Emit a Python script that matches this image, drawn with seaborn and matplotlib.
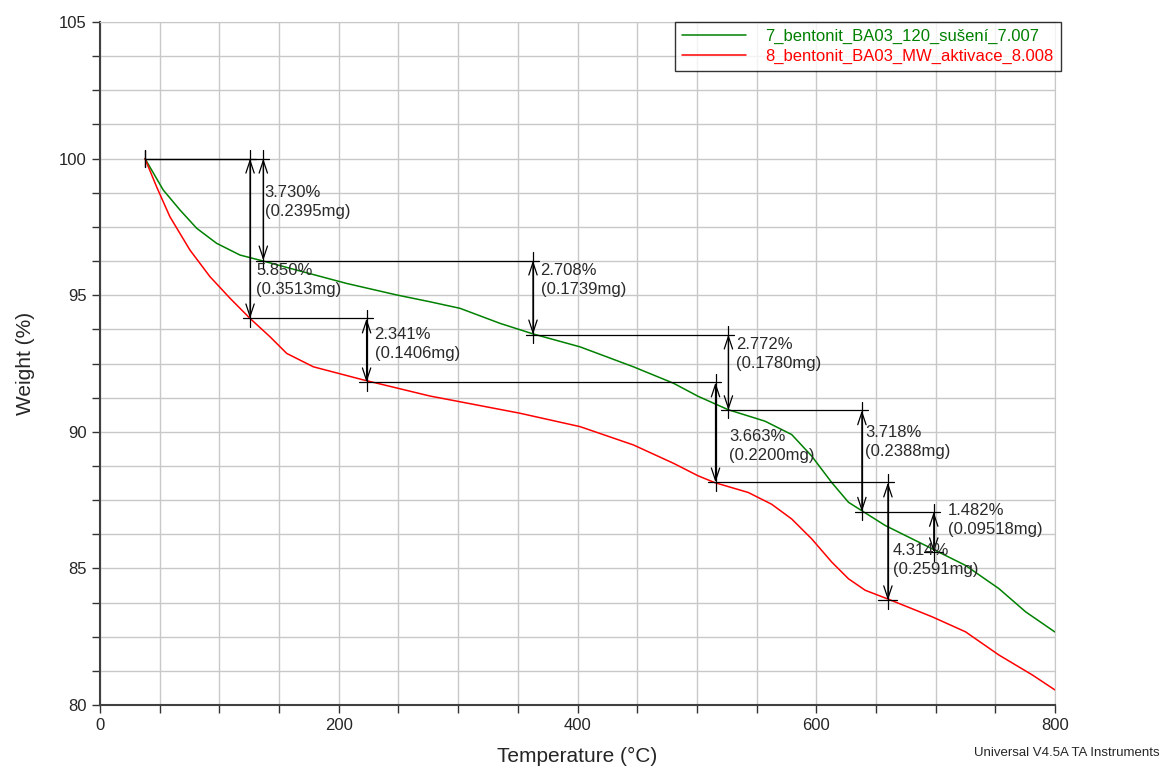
import numpy as np
import pandas as pd
import matplotlib
matplotlib.use("Agg")
import matplotlib.pyplot as plt
from matplotlib.ticker import MultipleLocator
import seaborn as sns

# TGA curves (temperature in degC, weight in %)
green_label = "7_bentonit_BA03_120_sušení_7.007"
green_temp = [37.7, 53, 67, 81, 97.7, 117.3, 136.8, 164.7, 206.7, 248.5, 276.4, 301.6,
              335.1, 363, 402.1, 446.8, 480.3, 501, 526.2, 557, 579.4, 596.2, 613, 627,
              638.2, 657.8, 697, 725, 753, 775.4, 800]
green_weight = [100.0, 98.85, 98.12, 97.45, 96.90, 96.47, 96.25, 95.92, 95.43, 95.01, 94.76, 94.52,
                93.97, 93.58, 93.11, 92.38, 91.78, 91.30, 90.81, 90.39, 89.90, 89.11, 88.14, 87.42,
                87.11, 86.57, 85.72, 85.11, 84.26, 83.41, 82.67]

red_label = "8_bentonit_BA03_MW_aktivace_8.008"
red_temp = [37.7, 47.4, 58.6, 75.4, 92.1, 108.9, 125.7, 142.4, 156.4, 178.7, 220.6, 276.4,
            301.6, 351.8, 402.1, 446.8, 480.3, 501, 515, 543, 562.6, 579.4, 596.2, 613,
            627, 641, 660.6, 697, 725, 753, 781, 800]
red_weight = [100.0, 98.97, 97.87, 96.65, 95.68, 94.89, 94.15, 93.48, 92.87, 92.38, 91.90, 91.31,
              91.10, 90.68, 90.19, 89.52, 88.85, 88.39, 88.14, 87.78, 87.35, 86.81, 86.08, 85.23,
              84.62, 84.20, 83.87, 83.23, 82.68, 81.83, 81.10, 80.55]

# step analysis: cursor temperatures and losses
green_cursor = [37.7, 136.8, 362.7, 526.4, 638.2, 698.4]
green_loss = [3.730, 2.708, 2.772, 3.718, 1.482]
green_mg = ["0.2395", "0.1739", "0.1780", "0.2388", "0.09518"]

red_cursor = [37.7, 125.7, 223.3, 515.6, 660.0]
red_loss = [5.850, 2.341, 3.663, 4.314]
red_mg = ["0.3513", "0.1406", "0.2200", "0.2591"]

# where the step labels sit (left x, centre y)
green_text_xy = [(138, 98.41), (369, 95.56), (533, 92.85), (641, 89.63), (710, 86.77)]
red_text_xy = [(131, 95.56), (230, 93.21), (527, 89.48), (664, 85.31)]

sns.set_style("white")
plt.rcParams['font.family'] = ['Liberation Sans', 'DejaVu Sans']

fig = plt.figure(figsize=(11.64, 7.67), dpi=100)
ax = fig.add_axes([0.0859, 0.0808, 0.8205, 0.8905])

df = pd.concat([
    pd.DataFrame({"T": green_temp, "W": green_weight, "run": green_label}),
    pd.DataFrame({"T": red_temp, "W": red_weight, "run": red_label}),
])
sns.lineplot(data=df, x="T", y="W", hue="run", palette=["#008000", "#ff0000"],
             sort=False, estimator=None, lw=1.1, ax=ax)


def draw_steps(cursor, loss, mg, text_xy):
    levels = [100.0]
    for l in loss:
        levels.append(levels[-1] - l)
    # start tick
    ax.plot([cursor[0], cursor[0]], [levels[0] + 0.3, levels[0] - 0.3], color="black", lw=0.9)
    for i in range(len(loss)):
        x0, x1 = cursor[i], cursor[i + 1]
        y0, y1 = levels[i], levels[i + 1]
        left = x0 if i == 0 else x0 - 6
        ax.plot([left, x1 + 5], [y0, y0], color="black", lw=0.9)
        ax.plot([x1, x1], [y0 + 0.3, y1 - 0.3], color="black", lw=0.9)
        ax.annotate("", xy=(x1, y1), xytext=(x1, y0),
                    arrowprops=dict(arrowstyle="<->,head_length=0.6,head_width=0.2",
                                    color="black", lw=0.9, mutation_scale=15,
                                    shrinkA=0, shrinkB=0))
        tx, ty = text_xy[i]
        ax.text(tx, ty, f"{loss[i]:.3f}%\n({mg[i]}mg)", fontsize=12, color="#2a2a2a",
                va="center", ha="left", linespacing=1.35)
    ax.plot([cursor[-1] - 8, cursor[-1] + 8], [levels[-1], levels[-1]], color="black", lw=0.9)


draw_steps(green_cursor, green_loss, green_mg, green_text_xy)
draw_steps(red_cursor, red_loss, red_mg, red_text_xy)

ax.set_xlim(0, 800)
ax.set_ylim(80, 105)
ax.xaxis.set_major_locator(MultipleLocator(200))
ax.xaxis.set_minor_locator(MultipleLocator(50))
ax.yaxis.set_major_locator(MultipleLocator(5))
ax.yaxis.set_minor_locator(MultipleLocator(1.25))
ax.grid(True, which="both", color="#c8c8c8", lw=1.0)
ax.set_axisbelow(True)
ax.tick_params(which="both", direction="out", length=6, width=1, color="#333333",
               left=True, bottom=True, labelsize=12)
for s in ["top", "right"]:
    ax.spines[s].set_color("#c8c8c8")
for s in ["left", "bottom"]:
    ax.spines[s].set_color("#404040")
    ax.spines[s].set_linewidth(1.5)

ax.set_xlabel("Temperature (°C)", fontsize=15, labelpad=10)
ax.set_ylabel("Weight (%)", fontsize=15, labelpad=17)

leg = ax.legend(loc="upper right", bbox_to_anchor=(1.006, 1.0), borderaxespad=0,
                frameon=True, fancybox=False, edgecolor="black", fontsize=12,
                handlelength=3.8, handletextpad=1.2, labelspacing=0.3, title=None,
                borderpad=0.42)
leg.get_frame().set_linewidth(1.0)
for text, line in zip(leg.get_texts(), leg.get_lines()):
    text.set_color(line.get_color())

fig.text(0.9966, 0.018, "Universal V4.5A TA Instruments", fontsize=9.5, ha="right", va="center")

fig.savefig("out.png", dpi=100)
